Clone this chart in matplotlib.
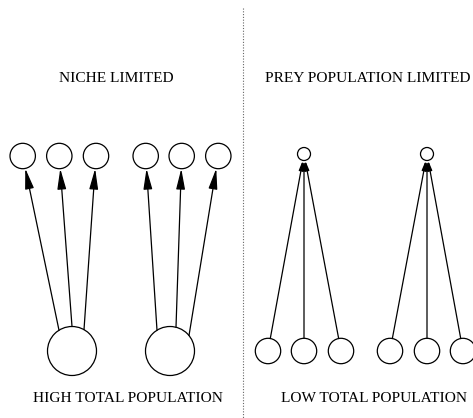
import numpy as np
import matplotlib
matplotlib.use("Agg")
import matplotlib.pyplot as plt
from matplotlib.patches import Circle, FancyArrowPatch

# ---- diagram content ----
panel_titles = ["NICHE LIMITED", "PREY POPULATION LIMITED"]
panel_footers = ["HIGH TOTAL POPULATION", "LOW TOTAL POPULATION"]

# left panel: two large (high-population) source nodes, each feeding 3 niche nodes
left_src_x = [72, 170]
left_src_r = 24.5
left_dst_x = [[22.7, 59.3, 96.0], [145.7, 181.7, 218.3]]
left_dst_r = 12.7
left_src_port = [[-13, 0, 12], [-13, 6, 19]]   # x offsets where edges leave sources

# right panel: two small (prey-limited) nodes, each fed by 3 nodes
right_top_x = [304, 427]
right_top_r = 6.5
right_bot_x = [[268, 304, 341], [390, 427, 463]]
right_bot_r = 12.7

y_top, y_bot = 156, 351

fig = plt.figure(figsize=(4.73, 4.18), dpi=100)
ax = fig.add_axes([0, 0, 1, 1])
ax.set_xlim(0, 473)
ax.set_ylim(418, 0)
ax.axis("off")

lw = 0.9
font = dict(family="Liberation Serif", fontsize=11.1, color="black",
            ha="center", va="center")

def circle(x, y, r):
    ax.add_patch(Circle((x, y), r, fill=False, ec="black", lw=lw))

def arrow(p0, p1, hl, hw):
    a = FancyArrowPatch(p0, p1, arrowstyle=f"-|>,head_length={hl},head_width={hw}",
                        mutation_scale=1, lw=lw, color="black",
                        shrinkA=0, shrinkB=0)
    ax.add_patch(a)

# left panel
for sx, dxs, ports in zip(left_src_x, left_dst_x, left_src_port):
    circle(sx, y_bot, left_src_r)
    for dx, px in zip(dxs, ports):
        circle(dx, y_top, left_dst_r)
        sy = y_bot - np.sqrt(left_src_r**2 - px**2)
        start = np.array([sx + px, sy])
        c = np.array([dx, y_top])
        d = start - c
        d = d / np.linalg.norm(d)
        end = c + d * left_dst_r
        arrow(tuple(start), tuple(end), 12.5, 2.7)

# right panel
for tx, bxs in zip(right_top_x, right_bot_x):
    circle(tx, y_top - 2, right_top_r)
    tc = np.array([tx, y_top - 2])
    for bx in bxs:
        circle(bx, y_bot, right_bot_r)
        bc = np.array([bx, y_bot])
        d = tc - bc
        d = d / np.linalg.norm(d)
        start = bc + d * right_bot_r
        end = tc - d * right_top_r
        arrow(tuple(start), tuple(end), 5.5, 1.2)

# divider
ax.plot([243, 243], [8, 418], linestyle=(0, (1, 1.5)), color="#666666", lw=0.8)

# labels
ax.text(116.5, 78.5, panel_titles[0], **font)
ax.text(367.5, 78.5, panel_titles[1], **font)
ax.text(127.5, 399, panel_footers[0], **font)
ax.text(374, 399, panel_footers[1], **font)

fig.savefig("out.png", dpi=100)
